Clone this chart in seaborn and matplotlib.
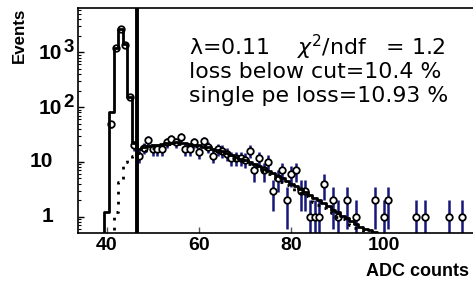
import numpy as np
import pandas as pd
import matplotlib
matplotlib.use("Agg")
import matplotlib.pyplot as plt
from matplotlib.ticker import LogLocator, NullFormatter, FixedLocator
import seaborn as sns

# ---------------- data ----------------
fit_adc = list(range(39, 101))
fit_vals = [0, 1.2, 82, 1180, 2700, 1400, 150, 22, 17, 18.5,
            19.5, 20, 20.5, 21, 22, 22.5, 23, 22.5, 22, 21,
            20.5, 20, 19, 18.5, 17.5, 16.5, 15.5, 14.5, 13.5, 12.5,
            11.5, 10.9, 10, 9.1, 8.3, 7.5, 6.8, 6.2, 5.5, 5.0,
            4.5, 4.0, 3.6, 3.2, 2.8, 2.5, 2.2, 2.0, 1.75, 1.55,
            1.35, 1.2, 1.05, 0.93, 0.82, 0.73, 0.65, 0.6, 0.57, 0.53,
            0.45, 0]

spe_adc = list(range(40, 100))
spe_vals = [0, 0.3, 1.2, 4.3, 10, 11.5, 13, 14.5, 16, 17,
            18, 19, 20, 20.5, 21, 21, 21, 20.5, 20, 19.5,
            19, 18, 17.5, 16.5, 15.5, 14.5, 13.5, 12.5, 11.5, 10.5,
            9.8, 9.0, 8.2, 7.4, 6.7, 6.0, 5.4, 4.8, 4.3, 3.8,
            3.4, 3.0, 2.7, 2.4, 2.1, 1.85, 1.65, 1.45, 1.3, 1.15,
            1.0, 0.9, 0.8, 0.71, 0.63, 0.56, 0.5, 0.44, 0.4, 0]

data_adc = [41, 42, 43, 44, 45, 46, 47, 48, 49, 50,
            51, 52, 53, 54, 55, 56, 57, 58, 59, 60,
            61, 62, 63, 64, 65, 66, 67, 68, 69, 70,
            71, 72, 73, 74, 75, 76, 77, 78, 79, 80,
            81, 82, 83, 84, 85, 86, 87, 89, 90, 92,
            94, 98, 100, 101, 107, 109, 114, 117]
data_counts = [49, 1180, 2700, 1380, 150, 20, 13, 18, 25, 17,
               17, 17, 23, 26, 23, 28, 17, 17, 23, 15,
               24, 19, 13, 17, 16, 14, 12, 12, 12, 11,
               16, 7, 12, 7, 10, 3, 5, 7, 2, 6,
               7, 3, 3, 1, 1, 1, 4, 2, 1, 2,
               1, 2, 1, 2, 1, 1, 1, 1]

cut_position = 46.5
xtick_values = [40, 60, 80, 100]
ytick_values = [1, 10, 100, 1000]
ytick_base = ["1", "10", "10", "10"]
ytick_exp = ["", "", "2", "3"]
info_lines = ["λ=0.11    $\\chi^{2}$/ndf   = 1.2",
              "loss below cut=10.4 %",
              "single pe loss=10.93 %"]
x_label = "ADC counts"
y_label = "Events"

# ---------------- style ----------------
sns.set_theme(style="ticks")
plt.rcParams["font.family"] = ["Liberation Sans", "DejaVu Sans"]
plt.rcParams["mathtext.fontset"] = "dejavusans"
for key in ["text.color", "axes.labelcolor", "xtick.color", "ytick.color",
            "axes.edgecolor"]:
    plt.rcParams[key] = "black"

W, H = 473, 284
fig = plt.figure(figsize=(W / 100, H / 100), dpi=100)
ax_left, ax_right, ax_top, ax_bottom = 78, 473, 8, 233
ax = fig.add_axes([ax_left / W, 1 - ax_bottom / H,
                   (ax_right - ax_left) / W, (ax_bottom - ax_top) / H])

data_df = pd.DataFrame({"adc": data_adc, "counts": data_counts})
data_df["err"] = np.sqrt(data_df["counts"])
fit_df = pd.DataFrame({"adc": fit_adc, "val": fit_vals})
spe_df = pd.DataFrame({"adc": spe_adc, "val": spe_vals})

# error bars
ax.vlines(data_df["adc"], data_df["counts"] - data_df["err"],
          data_df["counts"] + data_df["err"], color="#17177a", lw=1.8, zorder=2)

# data circles
sns.scatterplot(data=data_df, x="adc", y="counts", ax=ax, marker="o", s=22,
                facecolor="white", edgecolor="black", linewidth=1.3, zorder=4,
                legend=False)

# total fit (stair)
sns.lineplot(data=fit_df, x="adc", y="val", ax=ax, color="black", lw=2.0,
             drawstyle="steps-mid", zorder=5, legend=False, errorbar=None,
             estimator=None)
# single pe component (dotted stair)
sns.lineplot(data=spe_df, x="adc", y="val", ax=ax, color="black", lw=2.0,
             drawstyle="steps-mid", linestyle=(0, (1, 2.6)), zorder=5,
             legend=False, errorbar=None, estimator=None)

# cut line
ax.axvline(cut_position, color="black", lw=2.8, zorder=6)

ax.set_yscale("log", nonpositive="clip")
ax.set_xlim(33.8, 119.3)
ax.set_ylim(0.504, 6430)

# spines
for side in ["left", "bottom", "top"]:
    ax.spines[side].set_linewidth(1.2)
    ax.spines[side].set_color("black")
ax.spines["right"].set_visible(False)

# ticks
ax.xaxis.set_major_locator(FixedLocator(xtick_values))
ax.set_xticklabels([str(v) for v in xtick_values], fontsize=14,
                   fontweight="bold", color="black")
ax.tick_params(axis="x", which="major", direction="in", length=4.3, width=1,
               color="#555555", labelcolor="black", pad=3)
ax.tick_params(axis="x", which="minor", bottom=False)
ax.yaxis.set_major_locator(FixedLocator(ytick_values))
ax.yaxis.set_minor_locator(LogLocator(base=10, subs=np.arange(2, 10)))
ax.yaxis.set_minor_formatter(NullFormatter())
ax.tick_params(axis="y", which="major", direction="in", length=4.5, width=1,
               color="black", labelleft=False)
ax.tick_params(axis="y", which="minor", direction="in", length=2.3, width=0.8,
               color="black")

px = 0.72  # points per pixel
for v, base, exp in zip(ytick_values, ytick_base, ytick_exp):
    if exp:
        ax.annotate(base, xy=(0, v), xycoords=("axes fraction", "data"),
                    xytext=(-16 * px, -1 * px), textcoords="offset points",
                    ha="right", va="center", fontsize=15, fontweight="bold",
                    color="black")
        ax.annotate(exp, xy=(0, v), xycoords=("axes fraction", "data"),
                    xytext=(-14.5 * px, 5 * px), textcoords="offset points",
                    ha="left", va="center", fontsize=13.5, fontweight="bold",
                    color="black")
    else:
        ax.annotate(base, xy=(0, v), xycoords=("axes fraction", "data"),
                    xytext=(-25 * px, 0), textcoords="offset points",
                    ha="right", va="center", fontsize=15, fontweight="bold",
                    color="black")

# axis labels
ax.set_xlabel(x_label, fontsize=13, fontweight="bold", loc="right",
              color="black")
ax.xaxis.set_label_coords((469 - ax_left) / (ax_right - ax_left),
                          (ax_bottom - 263) / (ax_bottom - ax_top))
ax.set_ylabel(y_label, fontsize=12.2, fontweight="bold", loc="top",
              color="black")
ax.yaxis.set_label_coords((27 - ax_left) / (ax_right - ax_left), 1.0)

# info text
baselines_px = [55, 78, 102]
for line, ypx in zip(info_lines, baselines_px):
    ax.text((189 - ax_left) / (ax_right - ax_left),
            (ax_bottom - ypx) / (ax_bottom - ax_top), line,
            transform=ax.transAxes, ha="left", va="baseline",
            fontsize=15.8, family="DejaVu Sans", color="black", zorder=7)

fig.savefig("out.png", dpi=100)
